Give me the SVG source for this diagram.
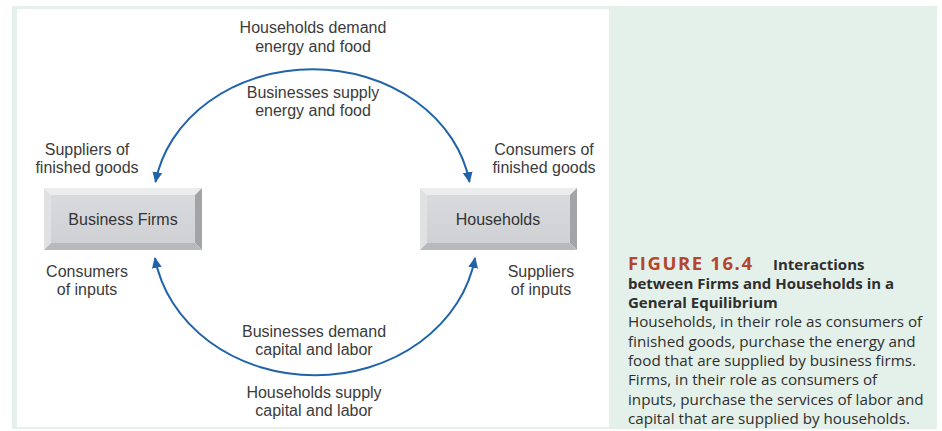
<svg xmlns="http://www.w3.org/2000/svg" width="942" height="431" viewBox="0 0 942 431">
  <style>
    .lbl { font-family: "Liberation Sans", Arial, sans-serif; font-size: 16px; fill: #3b3b3b; text-anchor: middle; }
    .box-text { font-family: "Liberation Sans", Arial, sans-serif; font-size: 16px; fill: #333; text-anchor: middle; }
    .flow { fill: none; stroke: #2163a9; stroke-width: 2; marker-start: url(#head); marker-end: url(#head); }
    .cap { font-family: "Open Sans", "Noto Sans", sans-serif; font-size: 15.2px; fill: #2e2e2e; }
    .cap-b { font-weight: 700; font-size: 15px; }
    .fig { font-family: "Open Sans", "Noto Sans", sans-serif; font-size: 18.5px; font-weight: 700; fill: #b4462c; letter-spacing: 1.6px; }
    .bev-top { fill: #eceded; }
    .bev-left { fill: #e0e1e3; }
    .bev-right { fill: #a2a4a8; }
    .bev-bottom { fill: #b7b9bc; }
    .face { fill: url(#faceGrad); }
  </style>
  <defs>
    <marker id="head" viewBox="0 0 10 9" refX="9" refY="4.5" markerWidth="11" markerHeight="10" markerUnits="userSpaceOnUse" orient="auto-start-reverse">
      <path d="M0,0 L10,4.5 L0,9 z" fill="#2163a9"/>
    </marker>
    <linearGradient id="faceGrad" x1="0" y1="0" x2="0" y2="1">
      <stop offset="0" stop-color="#d8dadd"/>
      <stop offset="1" stop-color="#cfd1d5"/>
    </linearGradient>
  </defs>

  <!-- frame and caption panel -->
  <rect x="12" y="6" width="925" height="423" fill="#e4f1ea"/>
  <rect x="17" y="9" width="592" height="418" fill="#ffffff"/>

  <!-- circular flows -->
  <g id="connectors">
    <path class="flow" d="M155.5,182 A159 134 0 0 1 469.5,182"/>
    <path class="flow" d="M155,258 A162 139 0 0 0 475,258"/>
  </g>

  <!-- Business Firms -->
  <g id="business-firms">
    <polygon class="bev-top" points="44,188 202,188 195,195 51,195"/>
    <polygon class="bev-left" points="44,188 51,195 51,243 44,250"/>
    <polygon class="bev-right" points="202,188 202,250 195,243 195,195"/>
    <polygon class="bev-bottom" points="44,250 51,243 195,243 202,250"/>
    <rect class="face" x="51" y="195" width="144" height="48"/>
    <text class="box-text" x="123" y="225">Business Firms</text>
  </g>

  <!-- Households -->
  <g id="households">
    <polygon class="bev-top" points="420,188 577,188 570,195 427,195"/>
    <polygon class="bev-left" points="420,188 427,195 427,243 420,250"/>
    <polygon class="bev-right" points="577,188 577,250 570,243 570,195"/>
    <polygon class="bev-bottom" points="420,250 427,243 570,243 577,250"/>
    <rect class="face" x="427" y="195" width="143" height="48"/>
    <text class="box-text" x="498" y="225">Households</text>
  </g>

  <!-- flow labels -->
  <g id="labels">
    <text class="lbl" x="313" y="33">Households demand</text>
    <text class="lbl" x="313" y="52">energy and food</text>
    <text class="lbl" x="313" y="98">Businesses supply</text>
    <text class="lbl" x="313" y="116">energy and food</text>
    <text class="lbl" x="87" y="155">Suppliers of</text>
    <text class="lbl" x="87" y="173">finished goods</text>
    <text class="lbl" x="544" y="155">Consumers of</text>
    <text class="lbl" x="544" y="173">finished goods</text>
    <text class="lbl" x="87" y="277">Consumers</text>
    <text class="lbl" x="87" y="295">of inputs</text>
    <text class="lbl" x="541" y="277">Suppliers</text>
    <text class="lbl" x="541" y="295">of inputs</text>
    <text class="lbl" x="314" y="337">Businesses demand</text>
    <text class="lbl" x="314" y="355">capital and labor</text>
    <text class="lbl" x="314" y="398">Households supply</text>
    <text class="lbl" x="314" y="416">capital and labor</text>
  </g>

  <!-- caption -->
  <g id="caption">
    <text class="fig" x="628" y="270">FIGURE 16.4</text>
    <text class="cap cap-b" x="773" y="270">Interactions</text>
    <text class="cap cap-b" x="628" y="289">between Firms and Households in a</text>
    <text class="cap cap-b" x="628" y="308">General Equilibrium</text>
    <text class="cap" x="628" y="327">Households, in their role as consumers of</text>
    <text class="cap" x="628" y="347">finished goods, purchase the energy and</text>
    <text class="cap" x="628" y="366">food that are supplied by business firms.</text>
    <text class="cap" x="628" y="385">Firms, in their role as consumers of</text>
    <text class="cap" x="628" y="405">inputs, purchase the services of labor and</text>
    <text class="cap" x="628" y="424">capital that are supplied by households.</text>
  </g>
</svg>
